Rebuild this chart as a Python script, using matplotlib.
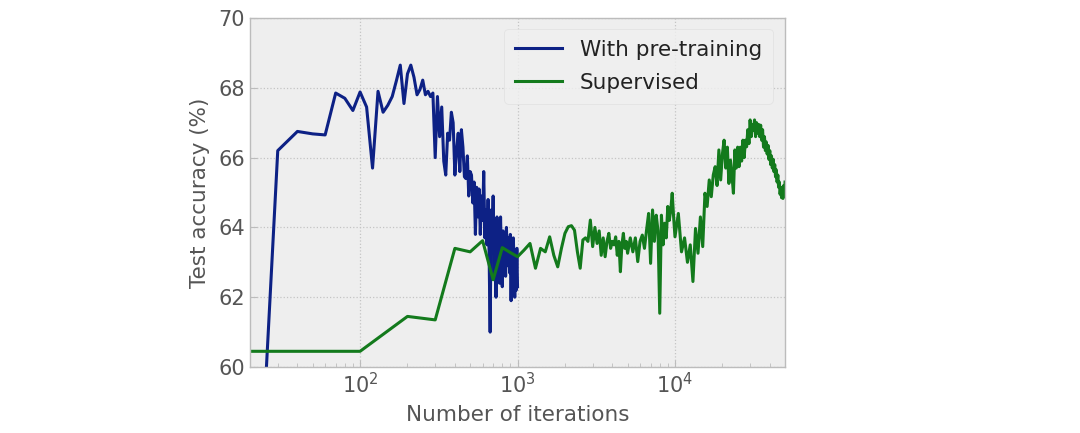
import numpy as np
import matplotlib
matplotlib.use("Agg")
import matplotlib.pyplot as plt

# with pre-training, evaluated every 10 iterations
pre_iters = np.arange(20, 1001, 10)
pre_acc = [
    51.0, 66.2, 66.75, 66.68, 66.65, 67.85, 67.7, 67.35, 67.88, 67.45,
    65.7, 67.9, 67.3, 67.5, 67.75, 68.2, 68.65, 67.55, 68.4, 68.65,
    68.3, 67.8, 67.95, 68.22, 67.8, 67.9, 67.75, 67.85, 66.0, 67.75,
    66.6, 67.45, 65.9, 65.5, 66.7, 66.5, 67.3, 67.0, 65.5, 66.2,
    66.7, 65.6, 66.8, 66.3, 65.45, 65.4, 66.05, 64.9, 65.6, 65.5,
    64.7, 65.3, 63.8, 65.15, 64.3, 65.1, 63.8, 64.9, 64.2, 65.6,
    63.7, 64.5, 63.5, 64.8, 63.2, 61.0, 64.5, 63.6, 64.9, 62.6,
    64.0, 62.0, 64.3, 63.0, 64.0, 62.4, 64.3, 63.1, 62.3, 63.9,
    63.0, 63.4, 62.6, 64.0, 63.2, 62.9, 63.7, 62.7, 63.8, 61.9,
    63.5, 62.3, 63.7, 63.0, 62.0, 63.3, 62.2, 63.4, 62.3,
]

sup_iters = [
    20, 100, 200, 300, 400, 500, 600, 700, 800, 900,
    1000, 1100, 1200, 1300, 1400, 1500, 1600, 1700, 1800, 1900,
    2000, 2100, 2200, 2300, 2400, 2500, 2600, 2700, 2800, 2900,
    3000, 3100, 3200, 3300, 3400, 3500, 3600, 3700, 3800, 3900,
    4000, 4100, 4200, 4300, 4400, 4500, 4600, 4700, 4800, 4900,
    5000, 5200, 5400, 5600, 5800, 6000, 6200, 6400, 6600, 6800,
    7000, 7200, 7400, 7600, 7800, 8000, 8200, 8400, 8600, 8800,
    9000, 9200, 9400, 9600, 9800,
    10000, 10500, 11000, 11500, 12000, 12500, 13000, 13500, 14000, 14500,
    15000, 15500, 16000, 16500, 17000, 17500, 18000, 18500, 19000, 19500,
    20000, 20500, 21000, 21500, 22000, 22500, 23000, 23500, 24000, 24500,
    25000, 25500, 26000, 26500, 27000, 27500, 28000, 28500, 29000, 29500,
    30000, 30500, 31000, 31500, 32000, 32500, 33000, 33500, 34000, 34500,
    35000, 35500, 36000, 36500, 37000, 37500, 38000, 38500, 39000, 39500,
    40000, 40500, 41000, 41500, 42000, 42500, 43000, 43500, 44000, 44500,
    45000, 45500, 46000, 46500, 47000, 47500, 48000, 48500, 49000, 49500,
    50000,
]
sup_acc = [
    60.45, 60.45, 61.45, 61.35, 63.4, 63.3, 63.62, 62.5, 63.42, 63.28,
    63.16, 63.35, 63.54, 62.83, 63.4, 63.3, 63.73, 63.2, 62.87, 63.4,
    63.83, 64.02, 64.05, 63.92, 63.3, 62.83, 63.64, 63.7, 63.6, 64.21,
    63.45, 64.0, 63.54, 63.9, 63.2, 63.7, 63.16, 63.6, 63.83, 63.4,
    63.6, 63.5, 63.73, 63.2, 63.6, 62.73, 63.5, 63.83, 63.4, 63.6,
    63.26, 63.7, 63.3, 63.7, 63.02, 63.6, 63.78, 63.4, 63.93, 64.4,
    62.97, 64.5, 63.6, 64.35, 63.9, 61.54, 64.35, 63.5, 64.12, 63.7,
    64.6, 64.2, 64.5, 64.98, 64.3,
    63.73, 64.4, 63.3, 63.7, 63.0, 63.5, 62.45, 63.97, 63.26, 64.3,
    63.45, 64.98, 64.6, 65.36, 64.88, 65.5, 65.74, 65.2, 66.22, 65.36,
    66.1, 66.5, 65.7, 66.3, 65.26, 65.93, 65.5, 64.98, 66.22, 65.7,
    66.3, 65.74, 66.3, 65.9, 66.5, 66.0, 66.5, 66.31, 66.8, 66.4,
    67.08, 66.6, 66.95, 66.79, 67.08, 66.6, 67.0, 66.7, 66.95, 66.6,
    66.93, 66.5, 66.8, 66.3, 66.6, 66.2, 66.45, 66.1, 66.35, 65.95,
    66.2, 65.8, 66.05, 65.7, 65.95, 65.6, 65.8, 65.45, 65.65, 65.3,
    65.5, 65.15, 65.3, 64.95, 65.15, 64.85, 65.05, 64.83, 65.2, 64.9,
    65.3,
]

plt.style.use("bmh")
plt.rcParams["font.family"] = "DejaVu Sans"

fig = plt.figure(figsize=(10.8, 4.33), dpi=100)
ax = fig.add_axes([0.2315, 0.1524, 0.4954, 0.806])
ax.set_facecolor("#eeeeee")

ax.plot(pre_iters, pre_acc, color="#0d2185", lw=2.2, label="With pre-training")
ax.plot(sup_iters, sup_acc, color="#137a1c", lw=2.2, label="Supervised")

ax.set_xscale("log")
ax.set_xlim(20, 50000)
ax.set_ylim(60, 70)
ax.set_yticks([60, 62, 64, 66, 68, 70])

ax.grid(True, which="major", color="#c4c4c4", linestyle=":", linewidth=0.9)
ax.grid(False, which="minor")
for s in ax.spines.values():
    s.set_color("#bcbcbc")
    s.set_linewidth(1)

ax.tick_params(axis="both", which="both", direction="in", colors="#bcbcbc",
               labelcolor="#555555", labelsize=15)
ax.tick_params(which="major", length=5)
ax.tick_params(which="minor", length=3)
ax.tick_params(axis="y", which="minor", left=False)

ax.set_xlabel("Number of iterations", fontsize=15.5, color="#555555", labelpad=6)
ax.set_ylabel("Test accuracy (%)", fontsize=15.5, color="#555555", labelpad=6)

leg = ax.legend(loc="upper right", fontsize=15.5, frameon=True, fancybox=True,
                handlelength=2.2, borderpad=0.5, labelspacing=0.6,
                bbox_to_anchor=(0.997, 0.999))
leg.get_frame().set_facecolor("#f0f0f0")
leg.get_frame().set_edgecolor("#dddddd")
for t in leg.get_texts():
    t.set_color("#222222")

fig.savefig("out.png", dpi=100)
